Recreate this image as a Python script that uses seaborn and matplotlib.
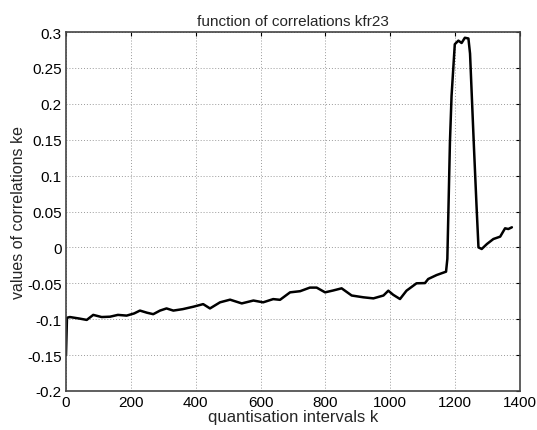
import matplotlib
matplotlib.use("Agg")
import matplotlib.pyplot as plt
import seaborn as sns
import pandas as pd

# quantisation interval index and correlation value ke
k = [0, 3, 12, 40, 64, 84, 110, 136, 160, 187, 210, 228, 250, 269, 290, 310, 331,
     360, 393, 423, 444, 475, 506, 542, 578, 608, 639, 660, 691, 722, 752, 773,
     799, 824, 850, 881, 917, 948, 979, 994, 1009, 1030, 1050, 1081, 1107, 1117,
     1143, 1172, 1176, 1184, 1189, 1199, 1210, 1220, 1230, 1241, 1246, 1252, 1258,
     1266, 1272, 1282, 1298, 1318, 1339, 1354, 1364, 1375]
ke = [-0.150, -0.098, -0.097, -0.099, -0.101, -0.094, -0.097, -0.0965, -0.094,
      -0.095, -0.092, -0.088, -0.091, -0.093, -0.088, -0.085, -0.088, -0.086,
      -0.0826, -0.079, -0.085, -0.0765, -0.0728, -0.078, -0.074, -0.0765, -0.072,
      -0.073, -0.0626, -0.061, -0.056, -0.056, -0.0626, -0.060, -0.057, -0.067,
      -0.0695, -0.071, -0.067, -0.0603, -0.066, -0.0719, -0.0603, -0.050, -0.0497,
      -0.044, -0.0385, -0.0338, -0.016, 0.1464, 0.211, 0.283, 0.288, 0.2847, 0.292,
      0.291, 0.270, 0.205, 0.140, 0.058, 0.0, -0.0022, 0.0047, 0.0117, 0.015,
      0.0266, 0.0256, 0.028]

x_ticks = [0, 200, 400, 600, 800, 1000, 1200, 1400]
y_ticks = [-0.2, -0.15, -0.1, -0.05, 0, 0.05, 0.1, 0.15, 0.2, 0.25, 0.3]
y_tick_labels = ["-0.2", "-0.15", "-0.1", "-0.05", "0", "0.05", "0.1", "0.15",
                 "0.2", "0.25", "0.3"]

df = pd.DataFrame({"k": k, "ke": ke})

sns.set_theme(style="white")
plt.rcParams["font.family"] = ["Liberation Sans", "DejaVu Sans"]

fig = plt.figure(figsize=(5.37, 4.31), dpi=100)
ax = fig.add_axes([0.1229, 0.0905, 0.8454, 0.8329])

sns.lineplot(data=df, x="k", y="ke", ax=ax, color="black", linewidth=1.8,
             estimator=None, sort=False)

ax.set_xlim(0, 1400)
ax.set_ylim(-0.2, 0.3)
ax.set_xticks(x_ticks)
ax.set_xticklabels([str(t) for t in x_ticks])
ax.set_yticks(y_ticks)
ax.set_yticklabels(y_tick_labels)

ax.grid(True, color="#9a9a9a", linestyle=(0, (1, 2)), linewidth=0.7)
ax.tick_params(direction="in", length=3, width=0.8, top=True, right=True,
               labelsize=11, colors="black", pad=3)
for side in ax.spines.values():
    side.set_color("#444444")
    side.set_linewidth(1.2)

ax.set_title("function of correlations kfr23", fontsize=11, pad=5)
ax.set_xlabel("quantisation intervals k", fontsize=12, labelpad=0)
ax.set_ylabel("values of correlations ke", fontsize=11.5, labelpad=1)

fig.savefig("out.png", dpi=100, facecolor="white")
